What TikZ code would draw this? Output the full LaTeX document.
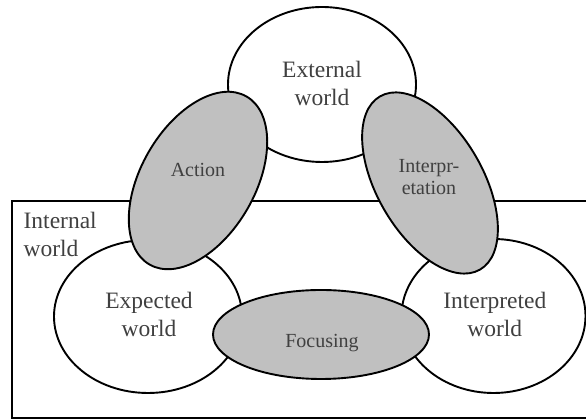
\documentclass[tikz,border=0pt]{standalone}
\usepackage{fontspec}
\setmainfont{Liberation Serif}
\usetikzlibrary{shapes.geometric}
\definecolor{phasegray}{RGB}{192,192,192}
\definecolor{ink}{RGB}{64,64,64}

\begin{document}
\begin{tikzpicture}[x=1pt,y=1pt,line width=1.9pt,every node/.style={align=center,text=ink},
    world/.style={shape=ellipse,draw,fill=white,inner sep=0pt},
    phase/.style={shape=ellipse,draw,fill=phasegray,inner sep=0pt},
    big/.style={font=\fontsize{23.5}{28}\selectfont},
    small/.style={font=\fontsize{20}{22.3}\selectfont}]
  \useasboundingbox (0,0) rectangle (586,419);
  \node[world,minimum width=188pt,minimum height=155pt] (ext) at (322,334.5) {};
  \node[world,minimum width=188pt,minimum height=153pt] (exp) at (148,102.5) {};
  \node[world,minimum width=184pt,minimum height=154pt] (intp) at (493.5,103) {};
  \draw (12,1) rectangle (600,218);
  \node[phase,rotate=60,minimum width=194pt,minimum height=114pt] (act) at (198,238.5) {};
  \node[phase,rotate=120,minimum width=200pt,minimum height=106pt] (interp) at (430,236) {};
  \node[phase,minimum width=216pt,minimum height=89pt] (foc) at (321,84.5) {};
  \node[big] (exttext) at (322,336) {External\\world};
  \node[big] (exptext) at (149,104.6) {Expected\\world};
  \node[big] (intptext) at (494.8,104.6) {Interpreted\\world};
  \node[big,align=left,anchor=west,inner sep=0pt] (inttext) at (22.7,184.5) {Internal\\world};
  \node[small,anchor=base] (acttext) at (198,242.3) {Action};
  \node[small] (interptext) at (429,242) {Interpr-\\etation};
  \node[small,anchor=base] (foctext) at (322,71) {Focusing};
\end{tikzpicture}
\end{document}
